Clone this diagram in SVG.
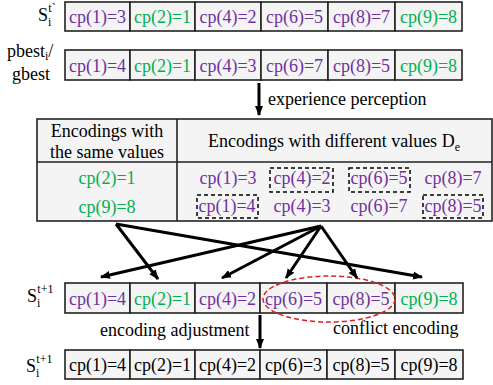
<svg xmlns="http://www.w3.org/2000/svg" width="493" height="385" viewBox="0 0 493 385" font-family="'Liberation Serif', 'DejaVu Serif', serif">
<defs>
<marker id="ah" markerUnits="userSpaceOnUse" markerWidth="10" markerHeight="10" viewBox="0 0 10 10" refX="9" refY="5" orient="auto">
<path d="M0,1 L10,5 L0,9 Z" fill="#000"/>
</marker>
<style>
text{font-family:'Liberation Serif','DejaVu Serif',serif;font-size:18px}
.t{text-anchor:middle}
.p{fill:#7030a0}
.g{fill:#00b050}
.k{fill:#000}
.cell{fill:#f4f4f4;stroke:#222;stroke-width:1.6}
.dash{fill:none;stroke:#000;stroke-width:1.5;stroke-dasharray:4,3}
.arr{stroke:#000;stroke-width:3;fill:none;marker-end:url(#ah)}
</style>
</defs>
<rect width="493" height="385" fill="#fff"/>

<g id="row-st">
<text x="38" y="21">S<tspan font-size="12" dy="5">i</tspan><tspan font-size="12" dx="-3" dy="-14">t`</tspan></text>
<rect class="cell" x="65" y="2" width="65" height="29"/>
<rect class="cell" x="130" y="2" width="65" height="29"/>
<rect class="cell" x="195" y="2" width="66" height="29"/>
<rect class="cell" x="261" y="2" width="67" height="29"/>
<rect class="cell" x="328" y="2" width="67" height="29"/>
<rect class="cell" x="395" y="2" width="67" height="29"/>
<text class="t p" x="97.5" y="23">cp(1)=3</text>
<text class="t g" x="162.5" y="23">cp(2)=1</text>
<text class="t p" x="228" y="23">cp(4)=2</text>
<text class="t p" x="294.5" y="23">cp(6)=5</text>
<text class="t p" x="361.5" y="23">cp(8)=7</text>
<text class="t g" x="428.5" y="23">cp(9)=8</text>
</g>

<g id="row-best">
<text x="7" y="57">pbest<tspan font-size="12" dy="3">i</tspan><tspan dy="-3">/</tspan></text>
<text x="12" y="80">gbest</text>
<rect class="cell" x="65" y="50" width="65" height="30"/>
<rect class="cell" x="130" y="50" width="65" height="30"/>
<rect class="cell" x="195" y="50" width="66" height="30"/>
<rect class="cell" x="261" y="50" width="67" height="30"/>
<rect class="cell" x="328" y="50" width="67" height="30"/>
<rect class="cell" x="395" y="50" width="67" height="30"/>
<text class="t p" x="97.5" y="72">cp(1)=4</text>
<text class="t g" x="162.5" y="72">cp(2)=1</text>
<text class="t p" x="228" y="72">cp(4)=3</text>
<text class="t p" x="294.5" y="72">cp(6)=7</text>
<text class="t p" x="361.5" y="72">cp(8)=5</text>
<text class="t g" x="428.5" y="72">cp(9)=8</text>
</g>

<g id="label-exp">
<text x="268" y="105">experience perception</text>
</g>

<g id="table">
<rect x="37" y="119" width="455" height="102" fill="#f4f4f4" stroke="#222" stroke-width="1.6"/>
<line x1="37" y1="162" x2="492" y2="162" stroke="#222" stroke-width="1.6"/>
<line x1="177" y1="119" x2="177" y2="221" stroke="#222" stroke-width="1.6"/>
<text class="t k" x="107" y="137">Encodings with</text>
<text class="t k" x="107" y="158">the same values</text>
<text class="t k" x="334" y="147">Encodings with different values D<tspan font-size="12" dy="4">e</tspan></text>
<text class="t g" x="107" y="184">cp(2)=1</text>
<text class="t g" x="107" y="213">cp(9)=8</text>
<text class="t p" x="228" y="184">cp(1)=3</text>
<text class="t p" x="302" y="184">cp(4)=2</text>
<text class="t p" x="379" y="184">cp(6)=5</text>
<text class="t p" x="453" y="184">cp(8)=7</text>
<text class="t p" x="227" y="212">cp(1)=4</text>
<text class="t p" x="302" y="212">cp(4)=3</text>
<text class="t p" x="379" y="212">cp(6)=7</text>
<text class="t p" x="453" y="212">cp(8)=5</text>
<rect class="dash" x="270" y="168" width="63" height="24"/>
<rect class="dash" x="349" y="168" width="61" height="24"/>
<rect class="dash" x="197" y="195" width="61" height="23"/>
<rect class="dash" x="423" y="195" width="60" height="23"/>
</g>

<g id="row-st1">
<text x="27" y="302">S<tspan font-size="12" dy="5">i</tspan><tspan font-size="12" dx="-3" dy="-14">t+1</tspan></text>
<rect class="cell" x="65" y="283" width="65" height="30"/>
<rect class="cell" x="130" y="283" width="65" height="30"/>
<rect class="cell" x="195" y="283" width="65" height="30"/>
<rect class="cell" x="260" y="283" width="67" height="30"/>
<rect class="cell" x="327" y="283" width="68" height="30"/>
<rect class="cell" x="395" y="283" width="68" height="30"/>
<text class="t p" x="97.5" y="305">cp(1)=4</text>
<text class="t g" x="162.5" y="305">cp(2)=1</text>
<text class="t p" x="227.5" y="305">cp(4)=2</text>
<text class="t p" x="293.5" y="305">cp(6)=5</text>
<text class="t p" x="361" y="305">cp(8)=5</text>
<text class="t g" x="429" y="305">cp(9)=8</text>
<ellipse cx="329" cy="299" rx="66" ry="23" fill="none" stroke="#e02020" stroke-width="1.5" stroke-dasharray="5,3"/>
</g>

<g id="labels-bottom">
<text x="100" y="336">encoding adjustment</text>
<text x="333" y="334">conflict encoding</text>
</g>

<g id="row-final">
<text x="26" y="372">S<tspan font-size="12" dy="5">i</tspan><tspan font-size="12" dx="-3" dy="-14">t+1</tspan></text>
<rect class="cell" x="65" y="350" width="65" height="29"/>
<rect class="cell" x="130" y="350" width="65" height="29"/>
<rect class="cell" x="195" y="350" width="65" height="29"/>
<rect class="cell" x="260" y="350" width="67" height="29"/>
<rect class="cell" x="327" y="350" width="68" height="29"/>
<rect class="cell" x="395" y="350" width="68" height="29"/>
<text class="t k" x="97.5" y="371">cp(1)=4</text>
<text class="t k" x="162.5" y="371">cp(2)=1</text>
<text class="t k" x="227.5" y="371">cp(4)=2</text>
<text class="t k" x="293.5" y="371">cp(6)=3</text>
<text class="t k" x="361" y="371">cp(8)=5</text>
<text class="t k" x="429" y="371">cp(9)=8</text>
</g>

<g id="connectors">
<line class="arr" x1="259" y1="83" x2="259" y2="115"/>
<line class="arr" x1="260" y1="315" x2="260" y2="348"/>
<line class="arr" x1="116" y1="224" x2="158" y2="279"/>
<line class="arr" x1="116" y1="224" x2="422" y2="277"/>
<line class="arr" x1="321" y1="226" x2="101" y2="277"/>
<line class="arr" x1="321" y1="226" x2="222" y2="278"/>
<line class="arr" x1="321" y1="226" x2="286" y2="278"/>
<line class="arr" x1="321" y1="226" x2="357" y2="278"/>
</g>
</svg>
